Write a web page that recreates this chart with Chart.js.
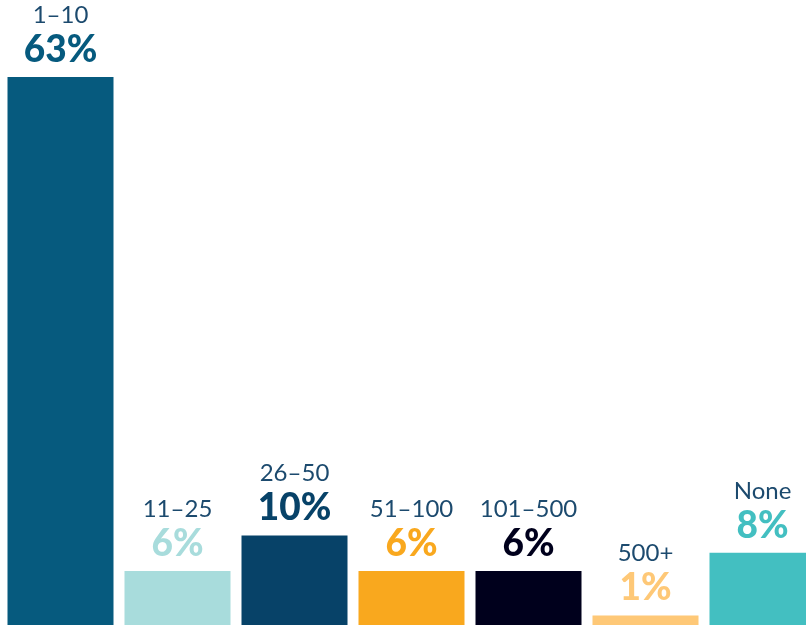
<!DOCTYPE html>
<html>
<head>
<meta charset="utf-8">
<script src="https://cdn.jsdelivr.net/npm/chart.js@4.4.1/dist/chart.umd.min.js"></script>
<style>
  html, body { margin: 0; padding: 0; background: #ffffff; overflow: hidden; }
  #wrap { position: absolute; left: 2px; top: 0; width: 819px; height: 625px; }
</style>
</head>
<body>
<div id="wrap"><canvas id="chart"></canvas></div>
<script>
// Data
const categories = ['1–10', '11–25', '26–50', '51–100', '101–500', '500+', 'None'];
const shares = [63, 6.2, 10.3, 6.2, 6.2, 1.1, 8.3];
const barColors = ['#065a7e', '#a8dcdc', '#074268', '#f9a81e', '#00001c', '#fec877', '#43bfc1'];

const labelColor = '#1c4a6e';

// Labels above each bar: category name + bold percentage
const barLabels = {
    id: 'barLabels',
    afterDatasetsDraw(chart) {
        const ctx = chart.ctx;
        const meta = chart.getDatasetMeta(0);
        ctx.save();
        ctx.textAlign = 'center';
        ctx.textBaseline = 'alphabetic';
        meta.data.forEach((bar, i) => {
            ctx.fillStyle = labelColor;
            ctx.font = "400 24px 'Lato', sans-serif";
            ctx.fillText(categories[i], bar.x, bar.y - 54);
            ctx.fillStyle = barColors[i];
            ctx.font = "900 37px 'Lato', sans-serif";
            ctx.fillText(Math.round(shares[i]) + '%', bar.x, bar.y - 15);
        });
        ctx.restore();
    }
};

new Chart(document.getElementById('chart').getContext('2d'), {
    type: 'bar',
    data: {
        labels: categories,
        datasets: [{
            data: shares,
            backgroundColor: barColors,
            borderWidth: 0,
            categoryPercentage: 1,
            barPercentage: 0.906
        }]
    },
    options: {
        responsive: true,
        maintainAspectRatio: false,
        animation: false,
        layout: { padding: 0 },
        plugins: {
            legend: { display: false },
            tooltip: { enabled: false }
        },
        scales: {
            x: { display: false },
            y: { display: false, min: 0, max: 71.85 }
        }
    },
    plugins: [barLabels]
});
</script>
</body>
</html>
